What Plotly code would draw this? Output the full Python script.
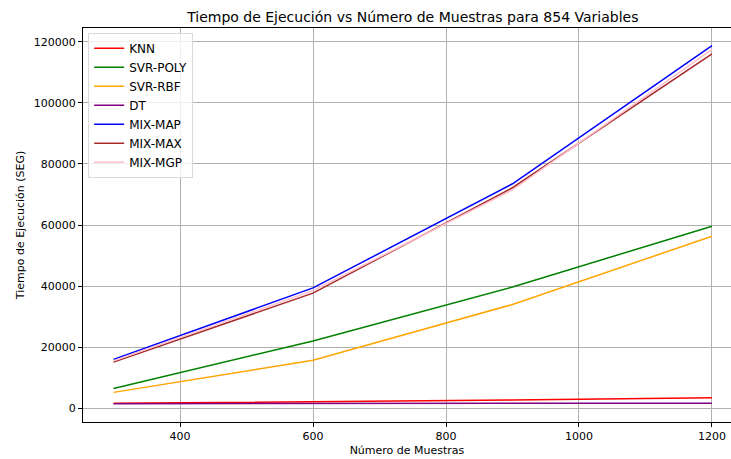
import plotly.graph_objects as go

muestras = [300, 600, 900, 1200]
knn = [1600, 2100, 2700, 3400]
svr_poly = [6500, 22000, 39700, 59600]
svr_rbf = [5200, 15700, 34000, 56300]
dt = [1500, 1550, 1600, 1650]
mix_map = [16000, 39400, 73500, 118700]
mix_max = [15100, 37700, 72200, 116000]
mix_mgp = [15500, 38500, 71500, 117500]

series = [
    ("KNN", knn, "red"),
    ("SVR-POLY", svr_poly, "green"),
    ("SVR-RBF", svr_rbf, "orange"),
    ("DT", dt, "purple"),
    ("MIX-MAP", mix_map, "blue"),
    ("MIX-MAX", mix_max, "brown"),
    ("MIX-MGP", mix_mgp, "pink"),
]

fig = go.Figure()
for name, vals, col in series:
    fig.add_trace(go.Scatter(x=muestras, y=vals, mode="lines", name=name,
                             line=dict(color=col, width=1.5)))

font = "DejaVu Sans"
fig.update_layout(
    width=731, height=459,
    margin=dict(l=83, r=0, t=28, b=37),
    paper_bgcolor="white", plot_bgcolor="white",
    font=dict(family=font, size=11, color="black"),
    title=dict(text="Tiempo de Ejecución vs Número de Muestras para 854 Variables",
               xref="paper", x=0.509, xanchor="center", y=0.963, yanchor="middle",
               font=dict(size=14, family=font)),
    showlegend=True,
    legend=dict(x=0.008, y=0.988, xanchor="left", yanchor="top",
                bgcolor="rgba(255,255,255,0.8)", bordercolor="#d9d9d9", borderwidth=1,
                font=dict(size=12, family=font), tracegroupgap=0, itemwidth=30),
)
fig.update_xaxes(
    range=[254.1, 1228.6], tickvals=[400, 600, 800, 1000, 1200],
    showgrid=True, gridcolor="#b0b0b0", gridwidth=0.8,
    showline=True, linecolor="black", linewidth=1, mirror=True,
    ticks="outside", ticklen=4, tickcolor="black", zeroline=False,
    title=dict(text="Número de Muestras", font=dict(size=11), standoff=4),
    tickfont=dict(size=11),
)
fig.update_yaxes(
    range=[-4500, 124500], tickvals=[0, 20000, 40000, 60000, 80000, 100000, 120000],
    tickformat="d",
    showgrid=True, gridcolor="#b0b0b0", gridwidth=0.8,
    showline=True, linecolor="black", linewidth=1, mirror=False,
    ticks="outside", ticklen=4, tickcolor="black", zeroline=False,
    title=dict(text="Tiempo de Ejecución (SEG)", font=dict(size=11), standoff=6),
    tickfont=dict(size=11),
)
fig.write_html("out.html")
